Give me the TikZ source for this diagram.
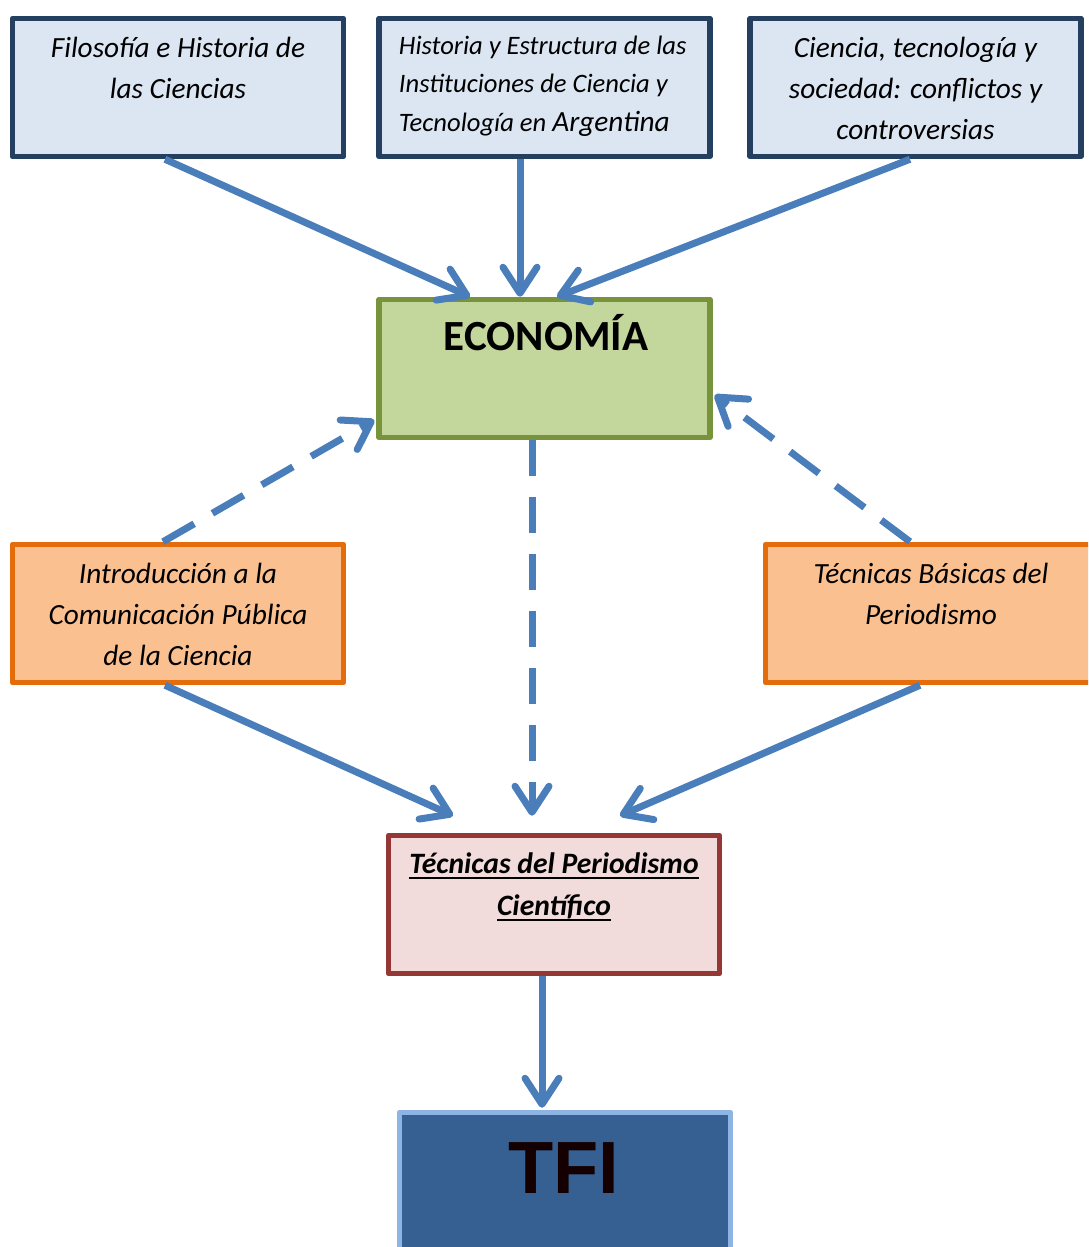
\documentclass[tikz,border=0pt]{standalone}
\usepackage{fontspec}
\setmainfont{Carlito}
\newfontfamily\tfifont{Liberation Sans}
\newcommand{\ulword}[1]{\leavevmode\vtop{\setbox0\hbox{#1}\dp0=0pt\box0\kern3.5pt\hrule height 2pt}}
\usetikzlibrary{arrows.meta,positioning,calc}
\definecolor{LinkBlue}{HTML}{4A7EBB}
\definecolor{NavyLine}{HTML}{243F60}
\definecolor{NavyFill}{HTML}{DCE6F2}
\definecolor{OliveLine}{HTML}{77933C}
\definecolor{OliveFill}{HTML}{C3D69B}
\definecolor{OrangeLine}{HTML}{E46C0A}
\definecolor{OrangeFill}{HTML}{FAC090}
\definecolor{RedLine}{HTML}{953735}
\definecolor{RedFill}{HTML}{F2DCDB}
\definecolor{TfiLine}{HTML}{8EB4E3}
\definecolor{TfiFill}{HTML}{366092}
\definecolor{TfiText}{HTML}{140000}

\begin{document}
\begin{tikzpicture}[x=1pt,y=-1pt,line join=round,
    box/.style={draw,line width=5.5pt,minimum width=331pt,minimum height=138pt,inner sep=0pt},
    txt/.style={inner sep=0pt,align=center,font=\fontsize{29.3}{41}\selectfont\itshape},
    link/.style={LinkBlue,line width=7pt,-{Straight Barb[round,length=26pt,width=34pt]}},
    dlink/.style={link,dash pattern=on 36pt off 21pt}]
  \clip (0,0) rectangle (1088,1247);

  % course boxes
  \node[box,draw=NavyLine,fill=NavyFill] (fil) at (178,87.5) {};
  \node[box,draw=NavyLine,fill=NavyFill] (hist) at (544.5,87.5) {};
  \node[box,draw=NavyLine,fill=NavyFill] (cts) at (915.5,87.5) {};
  \node[box,draw=OliveLine,fill=OliveFill] (eco) at (544.5,368.5) {};
  \node[box,draw=OrangeLine,fill=OrangeFill] (intro) at (178,613.5) {};
  \node[box,draw=OrangeLine,fill=OrangeFill] (tbas) at (931,613.5) {};
  \node[box,draw=RedLine,fill=RedFill] (tps) at (554,904.5) {};
  \node[box,draw=TfiLine,fill=TfiFill] (tfi) at (565,1181.5) {};

  % texts
  \node[txt,below=21pt of fil.north] (filtxt) {Filosofía e Historia de\\las Ciencias};
  \node[txt,align=left,anchor=north west,font=\fontsize{26.6}{38.5}\selectfont\itshape]
    (histtxt) at ($(hist.north west)+(22.5,20)$)
    {Historia y Estructura de las\\Instituciones de Ciencia y\\Tecnología en {\fontsize{29.3}{38.5}\selectfont Argentina}};
  \node[txt,below=21pt of cts.north] (ctstxt) {Ciencia, tecnología y\\sociedad: conflictos y\\controversias};
  \node[anchor=base,inner sep=0pt,font=\fontsize{43}{50}\selectfont\bfseries] (ecotxt) at (546,350) {ECONOMÍA};
  \node[txt,below=21pt of intro.north] (introtxt) {Introducción a la\\Comunicación Pública\\de la Ciencia};
  \node[txt,below=21pt of tbas.north] (tbastxt) {Técnicas Básicas del\\Periodismo};
  \node[txt,below=20pt of tps.north,font=\fontsize{29.6}{42}\selectfont\bfseries\itshape] (tpstxt)
    {\ulword{Técnicas del Periodismo}\\\ulword{Científico}};
  \node[anchor=base,inner sep=0pt,text=TfiText,font=\tfifont\bfseries\fontsize{74}{80}\selectfont] (tfitxt) at (564,1193) {TFI};

  % connectors
  \draw[link] ($(fil.south)+(-13,0)$) -- ($(eco.north)+(-74.5,0)$);
  \draw[link] ($(hist.south)+(-24.5,0)$) -- ($(eco.north)+(-24.5,0)$);
  \draw[link] ($(cts.south)+(-5.5,0)$) -- ($(eco.north)+(12.5,0)$);
  \draw[dlink] ($(intro.north)+(-15,0)$) -- ($(eco.west)+(-2,51.5)$);
  \draw[dlink] ($(tbas.north)+(-21,0)$) -- ($(eco.east)+(2,26.5)$);
  \draw[dlink] ($(eco.south)+(-12.5,0)$) -- ($(tps.north)+(-22,-17)$);
  \draw[link] ($(intro.south)+(-13,0)$) -- ($(tps.north)+(-101,-17)$);
  \draw[link] ($(tbas.south)+(-11,0)$) -- ($(tps.north)+(66,-17)$);
  \draw[link] ($(tps.south)+(-12,0)$) -- ($(tfi.north)+(-23,-2)$);
\end{tikzpicture}
\end{document}
